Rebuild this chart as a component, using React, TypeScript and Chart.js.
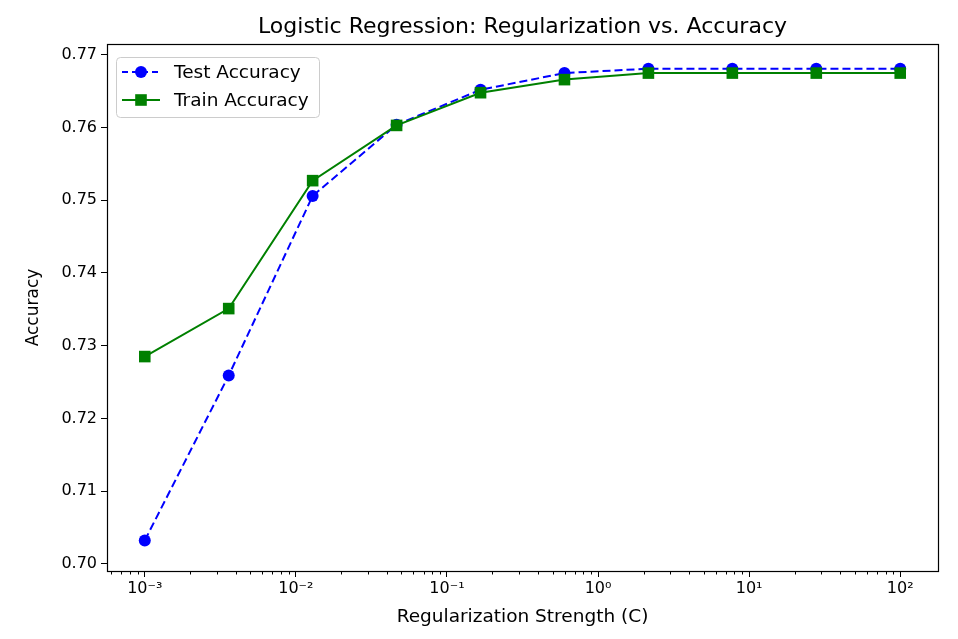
import React, { useEffect, useRef } from "react";
import { Chart, registerables } from "chart.js";

Chart.register(...registerables);

// Regularization strengths C (logspace -3..2, 10 points)
const cValues = [0.001, 0.003594, 0.012915, 0.046416, 0.16681, 0.59948, 2.1544, 7.7426, 27.826, 100];
const testAccuracy = [0.7032, 0.7259, 0.7506, 0.7604, 0.7652, 0.7675, 0.7681, 0.7681, 0.7681, 0.7681];
const trainAccuracy = [0.7285, 0.7351, 0.7527, 0.7603, 0.7648, 0.7666, 0.7675, 0.7675, 0.7675, 0.7675];

const yTicks = [0.7, 0.71, 0.72, 0.73, 0.74, 0.75, 0.76, 0.77];
const xDecades = [-3, -2, -1, 0, 1, 2];
const xTickLabels = ["10⁻³", "10⁻²", "10⁻¹", "10⁰", "10¹", "10²"];

const TITLE = "Logistic Regression: Regularization vs. Accuracy";
const FONT = "'DejaVu Sans', sans-serif";
const BLUE = "#0000ff";
const GREEN = "#008000";

const framePlugin = {
  id: "frame",
  afterDatasetsDraw(chart: any) {
    const { ctx, chartArea, scales } = chart;
    const { left, right, top, bottom } = chartArea;
    ctx.save();
    // title centred over the plot area
    ctx.fillStyle = "#000";
    ctx.font = `22px ${FONT}`;
    ctx.textAlign = "center";
    ctx.textBaseline = "middle";
    ctx.fillText(TITLE, (left + right) / 2, top - 17);

    // minor ticks on log x axis
    const xs = scales.x;
    ctx.strokeStyle = "#000";
    ctx.lineWidth = 1;
    for (let d = -4; d <= 2; d++) {
      for (let m = 2; m <= 9; m++) {
        const v = m * Math.pow(10, d);
        if (v < xs.min || v > xs.max) continue;
        const px = Math.round(xs.getPixelForValue(v)) + 0.5;
        ctx.beginPath();
        ctx.moveTo(px, bottom);
        ctx.lineTo(px, bottom + 3.5);
        ctx.stroke();
      }
    }
    // full box
    ctx.strokeStyle = "#000";
    ctx.lineWidth = 1.2;
    ctx.strokeRect(Math.round(left) + 0.5, Math.round(top) + 0.5, Math.round(right - left), Math.round(bottom - top));

    // legend
    const bx = left + 9;
    const by = top + 13;
    const bw = 203;
    const bh = 60;
    ctx.beginPath();
    if ((ctx as any).roundRect) (ctx as any).roundRect(bx + 0.5, by + 0.5, bw, bh, 4);
    else ctx.rect(bx + 0.5, by + 0.5, bw, bh);
    ctx.fillStyle = "rgba(255,255,255,0.8)";
    ctx.fill();
    ctx.strokeStyle = "#cccccc";
    ctx.lineWidth = 1;
    ctx.stroke();

    const items = [
      { label: "Test Accuracy", color: BLUE, dash: [6, 4], marker: "circle" },
      { label: "Train Accuracy", color: GREEN, dash: [], marker: "square" },
    ];
    items.forEach((it, i) => {
      const cy = by + 15 + i * 28;
      ctx.strokeStyle = it.color;
      ctx.lineWidth = 2;
      ctx.setLineDash(it.dash);
      ctx.beginPath();
      ctx.moveTo(bx + 6, cy);
      ctx.lineTo(bx + 44, cy);
      ctx.stroke();
      ctx.setLineDash([]);
      ctx.fillStyle = it.color;
      const mx = bx + 25;
      if (it.marker === "circle") {
        ctx.beginPath();
        ctx.arc(mx, cy, 6, 0, Math.PI * 2);
        ctx.fill();
      } else {
        ctx.fillRect(mx - 5.8, cy - 5.8, 11.6, 11.6);
      }
      ctx.fillStyle = "#000";
      ctx.font = `18.5px ${FONT}`;
      ctx.textBaseline = "middle";
      ctx.textAlign = "left";
      ctx.fillText(it.label, bx + 58, cy + 1);
    });
    ctx.restore();
  },
};

export default function App() {
  const canvasRef = useRef<HTMLCanvasElement | null>(null);

  useEffect(() => {
    document.body.style.margin = "0";
    const canvas = canvasRef.current;
    if (!canvas) return;
    const chart = new Chart(canvas, {
      type: "line",
      data: {
        datasets: [
          {
            label: "Test Accuracy",
            data: cValues.map((c, i) => ({ x: c, y: testAccuracy[i] })),
            borderColor: BLUE,
            backgroundColor: BLUE,
            borderWidth: 2,
            borderDash: [8, 4],
            pointStyle: "circle",
            pointRadius: 6,
            pointBorderWidth: 0,
            pointBackgroundColor: BLUE,
            tension: 0,
            fill: false,
            order: 1,
          },
          {
            label: "Train Accuracy",
            data: cValues.map((c, i) => ({ x: c, y: trainAccuracy[i] })),
            borderColor: GREEN,
            backgroundColor: GREEN,
            borderWidth: 2,
            pointStyle: "rect",
            pointRadius: 8.2,
            pointBorderWidth: 0,
            pointBackgroundColor: GREEN,
            tension: 0,
            fill: false,
            order: 0,
          },
        ],
      },
      options: {
        responsive: false,
        animation: false,
        layout: { padding: { left: 0, right: 20, top: 44, bottom: 0 } },
        plugins: {
          legend: { display: false },
          tooltip: { enabled: false },
          title: { display: false },
        },
        scales: {
          x: {
            type: "logarithmic",
            min: Math.pow(10, -3.25),
            max: Math.pow(10, 2.25),
            afterBuildTicks: (scale: any) => {
              scale.ticks = xDecades.map((d) => ({ value: Math.pow(10, d) }));
            },
            afterFit: (scale: any) => {
              scale.height = 68;
            },
            ticks: {
              autoSkip: false,
              maxRotation: 0,
              color: "#000",
              font: { family: FONT, size: 16 },
              padding: 2,
              callback: (_v: any, i: number) => xTickLabels[i],
            },
            grid: {
              drawOnChartArea: false,
              drawTicks: true,
              tickLength: 6,
              tickColor: "#000",
              color: "#000",
            },
            border: { display: false },
            title: {
              display: true,
              text: "Regularization Strength (C)",
              color: "#000",
              font: { family: FONT, size: 18.5 },
              padding: { top: 0, bottom: 11 },
            },
          },
          y: {
            type: "linear",
            min: 0.699,
            max: 0.7715,
            afterBuildTicks: (scale: any) => {
              scale.ticks = yTicks.map((v) => ({ value: v }));
            },
            afterFit: (scale: any) => {
              scale.width = 107;
            },
            ticks: {
              color: "#000",
              font: { family: FONT, size: 16 },
              padding: 4,
              callback: (v: any) => Number(v).toFixed(2),
            },
            grid: {
              drawOnChartArea: false,
              drawTicks: true,
              tickLength: 6,
              tickColor: "#000",
              color: "#000",
            },
            border: { display: false },
            title: {
              display: true,
              text: "Accuracy",
              color: "#000",
              font: { family: FONT, size: 17 },
              padding: { top: 23, bottom: 0 },
            },
          },
        },
      },
      plugins: [framePlugin],
    } as any);
    return () => chart.destroy();
  }, []);

  return (
    <div style={{ width: 958, height: 639 }}>
      <canvas ref={canvasRef} width={958} height={639} />
    </div>
  );
}
